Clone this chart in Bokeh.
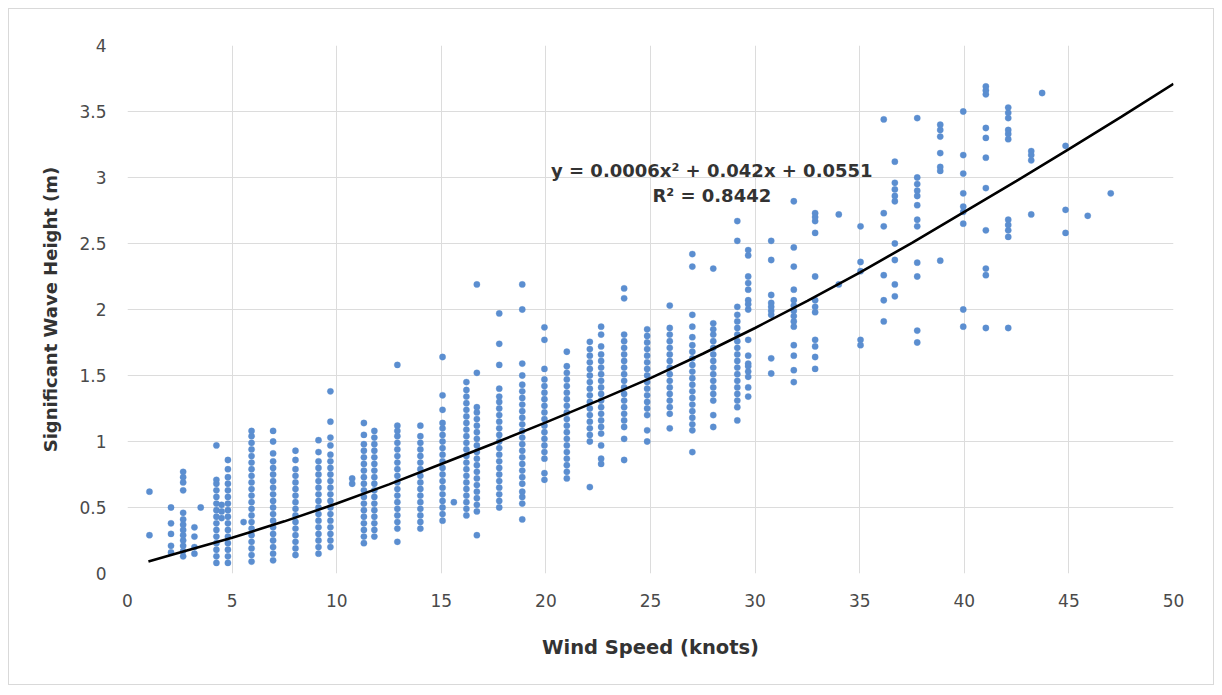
from bokeh.plotting import figure
from bokeh.models import Range1d, FixedTicker, Label, ColumnDataSource
from bokeh.embed import file_html
from bokeh.resources import INLINE

# ---- data ----
wind_speed_cols = [1.05, 2.08, 2.66, 3.2, 3.5, 4.25, 4.5, 4.8, 5.55, 5.93, 6.96, 8.03, 9.13, 9.7,
                   10.74, 11.3, 11.8, 12.9, 14.0, 15.06, 15.6, 16.2, 16.7, 17.77, 18.87, 19.93,
                   21.0, 22.1, 22.64, 23.74, 24.84, 25.92, 27.0, 28.0, 29.15, 29.67, 30.77, 31.85,
                   32.87, 34.0, 35.04, 36.15, 36.68, 37.75, 38.85, 39.95, 41.03, 42.1, 43.2, 43.72,
                   44.84, 45.9, 47.0]

wave_heights = [
    [0.29, 0.62],
    [0.16, 0.21, 0.3, 0.38, 0.5],
    [0.13, 0.17, 0.21, 0.25, 0.29, 0.33, 0.37, 0.41, 0.46, 0.63, 0.69, 0.73, 0.77],
    [0.15, 0.2, 0.28, 0.35],
    [0.5],
    [0.08, 0.13, 0.18, 0.23, 0.28, 0.33, 0.38, 0.43, 0.48, 0.53, 0.58, 0.63, 0.68, 0.71, 0.97],
    [0.42, 0.47, 0.52],
    [0.08, 0.13, 0.18, 0.23, 0.28, 0.33, 0.38, 0.43, 0.48, 0.53, 0.58, 0.63, 0.68, 0.73, 0.79, 0.86],
    [0.39],
    [0.09, 0.14, 0.19, 0.24, 0.29, 0.34, 0.39, 0.44, 0.49, 0.54, 0.59, 0.64, 0.69, 0.74, 0.79, 0.84,
     0.89, 0.94, 0.99, 1.04, 1.08],
    [0.1, 0.15, 0.2, 0.25, 0.3, 0.35, 0.4, 0.45, 0.5, 0.55, 0.6, 0.65, 0.7, 0.75, 0.8, 0.85, 0.91,
     1.0, 1.08],
    [0.14, 0.19, 0.24, 0.29, 0.34, 0.39, 0.44, 0.49, 0.54, 0.59, 0.64, 0.69, 0.74, 0.79, 0.86, 0.93],
    [0.15, 0.2, 0.25, 0.3, 0.35, 0.4, 0.45, 0.5, 0.55, 0.6, 0.65, 0.7, 0.75, 0.8, 0.85, 0.92, 1.01],
    [0.2, 0.25, 0.3, 0.35, 0.4, 0.45, 0.5, 0.55, 0.6, 0.65, 0.7, 0.75, 0.8, 0.85, 0.9, 0.97, 1.03,
     1.15, 1.38],
    [0.68, 0.72],
    [0.23, 0.28, 0.33, 0.38, 0.43, 0.48, 0.53, 0.58, 0.63, 0.68, 0.73, 0.78, 0.83, 0.88, 0.93, 0.98,
     1.05, 1.14],
    [0.28, 0.33, 0.38, 0.43, 0.48, 0.53, 0.58, 0.63, 0.68, 0.73, 0.78, 0.83, 0.88, 0.93, 0.98, 1.03,
     1.08],
    [0.24, 0.34, 0.39, 0.44, 0.49, 0.54, 0.59, 0.64, 0.69, 0.74, 0.79, 0.84, 0.89, 0.94, 0.99, 1.04,
     1.08, 1.12, 1.58],
    [0.34, 0.39, 0.44, 0.49, 0.54, 0.59, 0.64, 0.69, 0.74, 0.79, 0.84, 0.89, 0.94, 0.99, 1.04, 1.12],
    [0.4, 0.45, 0.5, 0.55, 0.6, 0.65, 0.7, 0.75, 0.8, 0.85, 0.9, 0.95, 1.0, 1.05, 1.1, 1.14, 1.24,
     1.35, 1.64],
    [0.54],
    [0.44, 0.49, 0.54, 0.59, 0.64, 0.69, 0.74, 0.79, 0.84, 0.89, 0.94, 0.99, 1.04, 1.09, 1.14, 1.19,
     1.24, 1.29, 1.34, 1.39, 1.45],
    [0.29, 0.47, 0.52, 0.57, 0.62, 0.67, 0.72, 0.77, 0.82, 0.87, 0.92, 0.97, 1.02, 1.07, 1.12, 1.17,
     1.22, 1.26, 1.52, 2.19],
    [0.5, 0.55, 0.6, 0.65, 0.7, 0.75, 0.8, 0.85, 0.9, 0.95, 1.0, 1.05, 1.1, 1.15, 1.2, 1.25, 1.3,
     1.34, 1.4, 1.58, 1.74, 1.97],
    [0.41, 0.53, 0.58, 0.62, 0.68, 0.73, 0.78, 0.83, 0.88, 0.93, 0.98, 1.03, 1.08, 1.13, 1.18, 1.23,
     1.28, 1.33, 1.38, 1.43, 1.5, 1.59, 2.0, 2.19],
    [0.71, 0.76, 0.87, 0.92, 0.97, 1.02, 1.07, 1.12, 1.17, 1.22, 1.27, 1.32, 1.37, 1.42, 1.47, 1.55,
     1.77, 1.865],
    [0.72, 0.77, 0.82, 0.87, 0.92, 0.97, 1.02, 1.07, 1.12, 1.17, 1.22, 1.27, 1.32, 1.37, 1.42, 1.47,
     1.52, 1.57, 1.68],
    [0.655, 1.0, 1.05, 1.1, 1.15, 1.2, 1.25, 1.3, 1.35, 1.4, 1.45, 1.5, 1.55, 1.6, 1.65, 1.7, 1.755],
    [0.83, 0.87, 0.97, 1.06, 1.11, 1.16, 1.21, 1.26, 1.31, 1.36, 1.41, 1.46, 1.51, 1.56, 1.61, 1.66,
     1.72, 1.81, 1.87],
    [0.86, 1.02, 1.11, 1.16, 1.21, 1.26, 1.31, 1.36, 1.41, 1.46, 1.51, 1.56, 1.61, 1.66, 1.71, 1.76,
     1.81, 2.085, 2.16],
    [1.0, 1.085, 1.2, 1.25, 1.3, 1.35, 1.4, 1.45, 1.5, 1.55, 1.6, 1.65, 1.7, 1.75, 1.8, 1.85],
    [1.1, 1.21, 1.26, 1.31, 1.36, 1.41, 1.46, 1.51, 1.56, 1.61, 1.66, 1.71, 1.76, 1.81, 1.86, 2.03],
    [0.92, 1.085, 1.13, 1.18, 1.23, 1.28, 1.33, 1.38, 1.43, 1.48, 1.53, 1.58, 1.63, 1.68, 1.73, 1.79,
     1.87, 1.96, 2.325, 2.42],
    [1.11, 1.2, 1.31, 1.36, 1.41, 1.46, 1.51, 1.56, 1.61, 1.66, 1.71, 1.76, 1.81, 1.85, 1.895, 2.31],
    [1.16, 1.26, 1.31, 1.36, 1.41, 1.46, 1.51, 1.56, 1.61, 1.66, 1.71, 1.76, 1.81, 1.86, 1.91, 1.96,
     2.02, 2.52, 2.67],
    [1.34, 1.41, 1.49, 1.53, 1.57, 1.59, 1.65, 1.77, 2.0, 2.04, 2.07, 2.15, 2.2, 2.25, 2.41, 2.45],
    [1.515, 1.63, 1.96, 1.99, 2.02, 2.05, 2.11, 2.375, 2.52],
    [1.45, 1.54, 1.65, 1.73, 1.87, 1.91, 1.95, 1.99, 2.03, 2.07, 2.15, 2.325, 2.47, 2.82],
    [1.55, 1.64, 1.72, 1.77, 1.98, 2.02, 2.07, 2.25, 2.58, 2.67, 2.7, 2.73],
    [2.19, 2.72],
    [1.73, 1.77, 2.29, 2.36, 2.63],
    [1.91, 2.07, 2.26, 2.63, 2.73, 3.44],
    [2.1, 2.19, 2.375, 2.5, 2.82, 2.86, 2.91, 2.96, 3.12],
    [1.75, 1.84, 2.25, 2.355, 2.63, 2.68, 2.79, 2.86, 2.9, 2.95, 3.0, 3.45],
    [2.37, 3.05, 3.08, 3.185, 3.31, 3.36, 3.4],
    [1.87, 2.0, 2.65, 2.74, 2.78, 2.88, 3.03, 3.17, 3.5],
    [1.86, 2.26, 2.31, 2.6, 2.92, 3.15, 3.3, 3.375, 3.63, 3.66, 3.69],
    [1.86, 2.55, 2.6, 2.64, 2.68, 3.29, 3.33, 3.36, 3.45, 3.49, 3.53],
    [2.72, 3.13, 3.17, 3.2],
    [3.64],
    [2.58, 2.755, 3.24],
    [2.71],
    [2.88],
]

# trendline points
trend_x = [1, 2.5, 5, 7.5, 10, 12.5, 15, 17.5, 20, 22.5, 25, 27.5, 30, 32.5, 35, 37.5, 40, 42.5,
           45, 47.5, 50]
trend_y = [0.09, 0.16, 0.27, 0.395, 0.53, 0.675, 0.83, 0.985, 1.145, 1.31, 1.48, 1.665, 1.86,
           2.065, 2.28, 2.505, 2.74, 2.975, 3.215, 3.46, 3.71]

x_ticks = [0, 5, 10, 15, 20, 25, 30, 35, 40, 45, 50]
x_tick_labels = ["0", "5", "10", "15", "20", "25", "30", "35", "40", "45", "50"]
y_ticks = [0, 0.5, 1, 1.5, 2, 2.5, 3, 3.5, 4]
y_tick_labels = ["0", "0.5", "1", "1.5", "2", "2.5", "3", "3.5", "4"]

equation_text = "y = 0.0006x\u00b2 + 0.042x + 0.0551"
r2_text = "R\u00b2 = 0.8442"

# ---- build ----
xs, ys = [], []
for xv, col in zip(wind_speed_cols, wave_heights):
    for yv in col:
        xs.append(xv)
        ys.append(yv)
src = ColumnDataSource(dict(x=xs, y=ys))

p = figure(width=1206, height=677, output_backend="svg", toolbar_location=None,
           x_range=Range1d(0, 50), y_range=Range1d(0, 4),
           min_border_left=118, min_border_right=42, min_border_top=36, min_border_bottom=113,
           margin=(8, 0, 0, 8),
           styles={"border": "1px solid #d9d9d9"})
p.background_fill_color = "white"
p.border_fill_color = "white"
p.outline_line_color = None

p.scatter("x", "y", source=src, size=6.3, marker="circle",
          fill_color="#5b8ed0", line_color="#5b8ed0", line_width=0.3)
p.line(trend_x, trend_y, line_color="black", line_width=2.6)

tick_font = "DejaVu Sans"
p.xaxis.ticker = FixedTicker(ticks=x_ticks)
p.xaxis.major_label_overrides = dict(zip(x_ticks, x_tick_labels))
p.yaxis.ticker = FixedTicker(ticks=y_ticks)
p.yaxis.major_label_overrides = dict(zip(y_ticks, y_tick_labels))
p.xgrid.ticker = FixedTicker(ticks=x_ticks)
p.ygrid.ticker = FixedTicker(ticks=y_ticks)
p.grid.grid_line_color = "#dcdcdc"
p.grid.grid_line_width = 1

for ax in (p.xaxis[0], p.yaxis[0]):
    ax.axis_line_color = None
    ax.major_tick_line_color = None
    ax.minor_tick_line_color = None
    ax.major_label_text_font = tick_font
    ax.major_label_text_font_size = "17px"
    ax.major_label_text_color = "#4a4a4a"
    ax.axis_label_text_font = tick_font
    ax.axis_label_text_font_style = "bold"
    ax.axis_label_text_color = "#333333"

p.xaxis.axis_label = "Wind Speed (knots)"
p.yaxis.axis_label = "Significant Wave Height (m)"
p.xaxis.axis_label_text_font_size = "19.5px"
p.yaxis.axis_label_text_font_size = "18px"
p.xaxis.major_label_standoff = 14
p.xaxis.axis_label_standoff = 26
p.yaxis.major_label_standoff = 15
p.yaxis.axis_label_standoff = 15

p.add_layout(Label(x=27.93, y=3.05, text=equation_text, text_align="center",
                   text_baseline="middle", text_font=tick_font, text_font_style="bold",
                   text_font_size="18px", text_color="#333333"))
p.add_layout(Label(x=27.93, y=2.86, text=r2_text, text_align="center",
                   text_baseline="middle", text_font=tick_font, text_font_style="bold",
                   text_font_size="18px", text_color="#333333"))

open("out.html", "w").write(file_html(p, INLINE))
